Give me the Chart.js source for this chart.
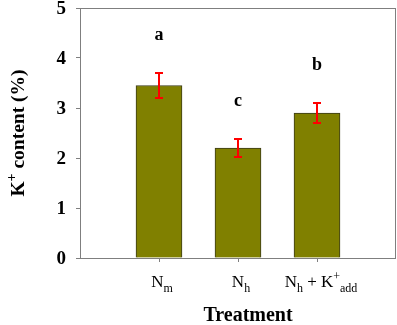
<!DOCTYPE html>
<html>
<head>
<meta charset="utf-8">
<script src="https://cdn.jsdelivr.net/npm/chart.js@4.4.0/dist/chart.umd.min.js"></script>
<style>
  html, body { margin: 0; padding: 0; background: #fff; }
  #wrap { width: 397px; height: 325px; }
</style>
</head>
<body>
<div id="wrap"><canvas id="chart" width="397" height="325"></canvas></div>
<script>
// treatment slots (empty ends keep bars on evenly spaced ticks like the original)
const slots = ["", "Nm", "Nh", "NhK", ""];
const contents = [null, 3.45, 2.2, 2.9, null];
const errors = [null, 0.25, 0.18, 0.2, null];
const letters = [null, "a", "c", "b", null];
const letterAt = [null, 4.36, 3.04, 3.77, null]; // baseline height of each letter
const yTicks = [0, 1, 2, 3, 4, 5];

// label pieces: [text, "base" | "sub" | "sup"]
const labelParts = {
  Nm: [["N", "base"], ["m", "sub"]],
  Nh: [["N", "base"], ["h", "sub"]],
  NhK: [["N", "base"], ["h", "sub"], [" + K", "base"], ["+", "sup"], ["add", "sub"]],
};

const SERIF = "'Liberation Serif', 'Times New Roman', serif";

function drawParts(ctx, parts, cx, baseY, size, weight) {
  const small = Math.round(size * 0.7);
  const fontFor = (k) => weight + " " + (k === "base" ? size : small) + "px " + SERIF;
  let w = 0;
  parts.forEach(([t, k]) => { ctx.font = fontFor(k); w += ctx.measureText(t).width; });
  let x = cx - w / 2;
  ctx.textAlign = "left";
  ctx.textBaseline = "alphabetic";
  parts.forEach(([t, k]) => {
    ctx.font = fontFor(k);
    let y = baseY;
    if (k === "sub") y = baseY + size * 0.3;
    if (k === "sup") y = baseY - size * 0.4;
    ctx.fillText(t, x, y);
    x += ctx.measureText(t).width;
  });
}

const extras = {
  id: "extras",
  afterDatasetsDraw(chart) {
    const { ctx, chartArea, scales } = chart;
    const xs = scales.x, ys = scales.y;
    ctx.save();

    // plot frame
    ctx.strokeStyle = "#7f7f7f";
    ctx.lineWidth = 1;
    ctx.strokeRect(chartArea.left + 0.5, chartArea.top + 0.5,
      chartArea.right - chartArea.left - 1, chartArea.bottom - chartArea.top);

    // error bars
    ctx.strokeStyle = "#ff0000";
    ctx.lineWidth = 2;
    contents.forEach((v, i) => {
      if (v === null) return;
      const x = xs.getPixelForValue(i);
      const hi = ys.getPixelForValue(v + errors[i]);
      const lo = ys.getPixelForValue(v - errors[i]);
      ctx.beginPath();
      ctx.moveTo(x, hi); ctx.lineTo(x, lo);
      ctx.moveTo(x - 4, hi); ctx.lineTo(x + 4, hi);
      ctx.moveTo(x - 4, lo); ctx.lineTo(x + 4, lo);
      ctx.stroke();
    });

    // significance letters
    ctx.fillStyle = "#000";
    ctx.font = "bold 18px " + SERIF;
    ctx.textAlign = "center";
    ctx.textBaseline = "alphabetic";
    letters.forEach((l, i) => {
      if (!l) return;
      ctx.fillText(l, xs.getPixelForValue(i), ys.getPixelForValue(letterAt[i]));
    });

    // y tick labels
    ctx.font = "bold 19px " + SERIF;
    ctx.textAlign = "right";
    ctx.textBaseline = "middle";
    yTicks.forEach((v) => {
      ctx.fillText(String(v), chartArea.left - 14, ys.getPixelForValue(v) + 1);
    });

    // category labels with subscripts
    slots.forEach((s, i) => {
      if (!labelParts[s]) return;
      const off = s === "NhK" ? 4 : 3;
      drawParts(ctx, labelParts[s], xs.getPixelForValue(i) + off, 287, 17, "normal");
    });

    // axis titles
    ctx.font = "bold 20px " + SERIF;
    ctx.textAlign = "center";
    ctx.textBaseline = "alphabetic";
    ctx.fillText("Treatment", 248, 321);

    ctx.translate(24, (chartArea.top + chartArea.bottom) / 2);
    ctx.rotate(-Math.PI / 2);
    drawParts(ctx, [["K", "base"], ["+", "sup"], [" content (%)", "base"]], 0, 0, 19.5, "bold");
    ctx.restore();
  },
};

new Chart(document.getElementById("chart"), {
  type: "bar",
  data: {
    labels: slots,
    datasets: [{
      data: contents,
      backgroundColor: "#808000",
      borderColor: "#3a3a1a",
      borderWidth: 1,
      barThickness: 46,
    }],
  },
  options: {
    responsive: false,
    animation: false,
    layout: { padding: { left: 76, right: 1, top: 8, bottom: 63 } },
    plugins: { legend: { display: false }, tooltip: { enabled: false } },
    scales: {
      x: {
        offset: false,
        border: { display: false },
        grid: {
          offset: false,
          drawOnChartArea: false,
          tickLength: 4,
          color: (c) => (c.index === 0 || c.index === slots.length - 1 ? "rgba(0,0,0,0)" : "#7f7f7f"),
        },
        ticks: { display: false },
      },
      y: {
        min: 0,
        max: 5,
        afterBuildTicks: (axis) => { axis.ticks = yTicks.map((v) => ({ value: v })); },
        border: { display: false },
        grid: { drawOnChartArea: false, tickLength: 4, color: "#7f7f7f" },
        ticks: { display: false },
      },
    },
  },
  plugins: [extras],
});
</script>
</body>
</html>
